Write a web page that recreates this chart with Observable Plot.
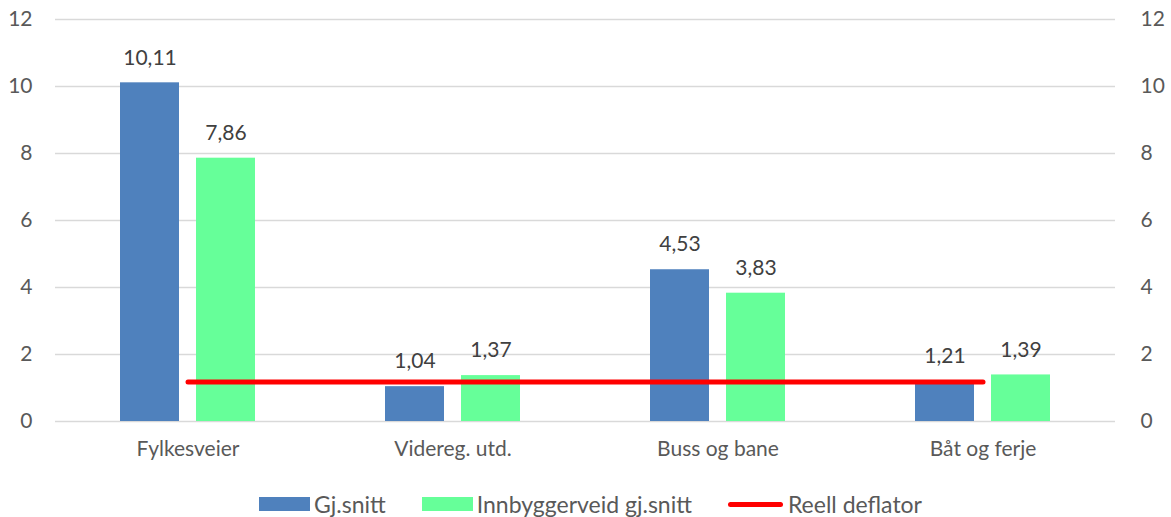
<!DOCTYPE html>
<html><head><meta charset="utf-8">
<script src="https://cdn.jsdelivr.net/npm/d3@7"></script>
<script src="https://cdn.jsdelivr.net/npm/@observablehq/plot@0.6"></script>
<style>
body{margin:0;background:#fff;font-family:Lato,"Open Sans",sans-serif;}
#legend{display:flex;justify-content:center;align-items:center;font-size:23px;color:#595959;height:30px;margin-top:14px;padding-left:10px;}
.item{display:flex;align-items:center;margin:0 18px;}
.sw{width:51px;height:14px;margin-right:4px;}
.ln{width:55px;height:5px;border-radius:3px;background:#ff0000;margin-right:5px;}
</style></head><body>
<div id="chart"></div>
<div id="legend"></div>
<script>
const categories = ["Fylkesveier", "Videreg. utd.", "Buss og bane", "Båt og ferje"];
const gjSnitt = [10.11, 1.04, 4.53, 1.21];
const innbyggerveid = [7.86, 1.37, 3.83, 1.39];
const deflator = [1.18, 1.18, 1.18, 1.18];
const yTicks = [0, 2, 4, 6, 8, 10, 12];
const seriesNames = ["Gj.snitt", "Innbyggerveid gj.snitt", "Reell deflator"];
const colors = ["#4F81BD", "#66FF99", "#FF0000"];

const blue = categories.map((c, i) => ({cat: c, v: gjSnitt[i]}));
const green = categories.map((c, i) => ({cat: c, v: innbyggerveid[i]}));
const line = categories.map((c, i) => ({cat: c, v: deflator[i]}));
const fmt = v => v.toFixed(2).replace(".", ",");

const plot = Plot.plot({
  width: 1171, height: 475,
  marginLeft: 55, marginRight: 56, marginTop: 19, marginBottom: 54,
  style: {fontFamily: "Lato, 'Open Sans', sans-serif", fontSize: "21px", color: "#595959", background: "#fff"},
  x: {domain: categories, padding: 0, label: null},
  y: {domain: [0, 12], label: null},
  marks: [
    Plot.gridY(yTicks, {stroke: "#d9d9d9", strokeOpacity: 1, strokeWidth: 1.5}),
    Plot.axisY(yTicks, {anchor: "left", tickSize: 0, tickPadding: 23, label: null, fill: "#595959", fontSize: 21}),
    Plot.axisY(yTicks, {anchor: "right", tickSize: 0, tickPadding: 25, label: null, fill: "#595959", fontSize: 21, textAnchor: "start"}),
    Plot.axisX({tickSize: 0, tickPadding: 20, label: null, fill: "#595959", fontSize: 21}),
    Plot.barY(blue, {x: "cat", y: "v", fill: colors[0], insetLeft: 65, insetRight: 141}),
    Plot.barY(green, {x: "cat", y: "v", fill: colors[1], insetLeft: 141, insetRight: 65}),
    Plot.lineY(line, {x: "cat", y: "v", stroke: colors[2], strokeWidth: 5, strokeLinecap: "round"}),
    Plot.text(blue, {x: "cat", y: "v", text: d => fmt(d.v), dx: -38, dy: -25, fill: "#404040", fontSize: 21}),
    Plot.text(green, {x: "cat", y: "v", text: d => fmt(d.v), dx: 38, dy: -25, fill: "#404040", fontSize: 21})
  ]
});
document.getElementById("chart").appendChild(plot);

const lg = document.getElementById("legend");
seriesNames.forEach((n, i) => {
  const it = document.createElement("div"); it.className = "item";
  const s = document.createElement("div");
  if (i < 2) { s.className = "sw"; s.style.background = colors[i]; } else { s.className = "ln"; }
  it.appendChild(s);
  const t = document.createElement("span"); t.textContent = n; it.appendChild(t);
  lg.appendChild(it);
});
</script></body></html>
